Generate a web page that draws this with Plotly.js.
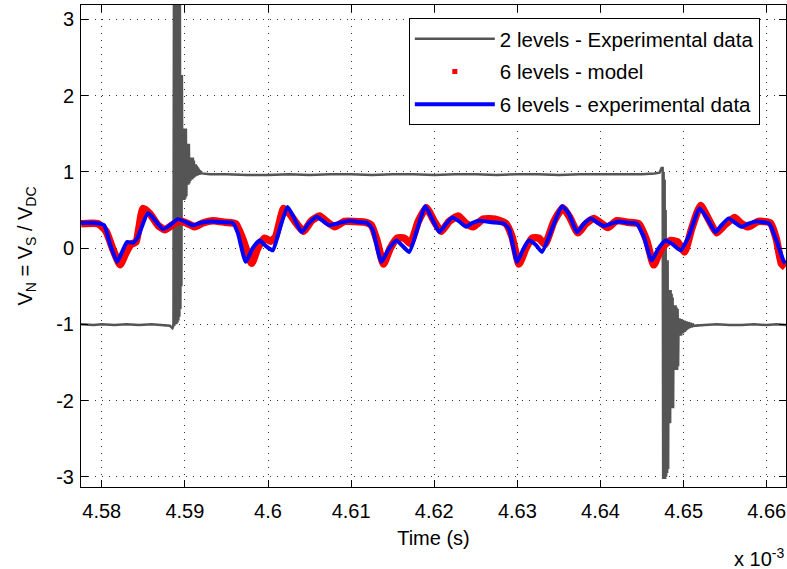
<!DOCTYPE html>
<html>
<head>
<meta charset="utf-8">
<script src="https://cdn.plot.ly/plotly-3.0.1.min.js"></script>
<style>html,body{margin:0;padding:0;background:#fff}#chart{width:787px;height:569px}</style>
</head>
<body>
<div id="chart"></div>
<script>
// Time values in units of 1e-3 s
var grayTime = [4.5775, 4.5790, 4.5800, 4.5815, 4.5830, 4.5845, 4.5860, 4.5875, 4.58820, 4.58850, 4.58862,
  4.58868, 4.58874, 4.58880, 4.58886, 4.58892, 4.58898, 4.58904, 4.58910, 4.58916, 4.58922, 4.58928, 4.58934, 4.58940, 4.58946,
  4.58952, 4.58958, 4.58964, 4.58970, 4.58976, 4.58982, 4.58988, 4.58994, 4.59000, 4.59006, 4.59012, 4.59018,
  4.59024, 4.59030, 4.59036, 4.59042, 4.59048, 4.59054, 4.59060, 4.59066, 4.59072, 4.59078, 4.59084, 4.59090,
  4.59096, 4.59102, 4.59108, 4.59114, 4.59120, 4.59126, 4.59132, 4.59138, 4.59144, 4.59150, 4.59156, 4.59162,
  4.59168, 4.59174, 4.59180, 4.59186, 4.59192, 4.59204,
  4.5930, 4.5950, 4.5975, 4.6000, 4.6025, 4.6050, 4.6075, 4.6100, 4.6125, 4.6150, 4.6175, 4.6200, 4.6225, 4.6250,
  4.6275, 4.6300, 4.6325, 4.6350, 4.6375, 4.6400, 4.6425, 4.6450, 4.6465, 4.64710, 4.64735,
  4.64748, 4.64754, 4.64760, 4.64766, 4.64772, 4.64778, 4.64784, 4.64790, 4.64796, 4.64802, 4.64808, 4.64814,
  4.64820, 4.64826, 4.64832, 4.64838, 4.64844, 4.64850, 4.64856, 4.64862, 4.64868, 4.64874,
  4.64880, 4.64886, 4.64892, 4.64898, 4.64904, 4.64910, 4.64916, 4.64922, 4.64928, 4.64934,
  4.64940, 4.64946, 4.64952, 4.64958, 4.64964, 4.64970, 4.64976, 4.64982, 4.64988, 4.64994,
  4.65000, 4.65006, 4.65012, 4.65018, 4.65024, 4.65030, 4.65036, 4.65042, 4.65048, 4.65054,
  4.65060, 4.65072, 4.65084, 4.65096, 4.65108, 4.65120,
  4.6525, 4.6540, 4.6555, 4.6570, 4.6585, 4.6600, 4.6612, 4.66232];
var grayValue = [-1.00, -1.01, -1.00, -1.01, -1.00, -1.01, -1.00, -1.01, -1.02, -1.05, -1.02,
  3.30, -1.02, 3.30, -1.00, 3.30, -1.00, 3.30, -0.98, 3.30, -0.95, 3.30, -0.90, 3.30, -0.80,
  2.27, -0.50, 2.27, 0.63, 1.57, 0.63, 1.57, 0.63, 1.57, 0.65, 1.57, 0.68,
  1.37, 0.83, 1.37, 0.83, 1.37, 0.85, 1.19, 0.88, 1.19, 0.90, 1.19, 0.90,
  1.19, 0.92, 1.15, 0.93, 1.10, 0.94, 1.10, 0.95, 1.08, 0.95, 1.06, 0.96,
  1.04, 0.96, 1.02, 0.97, 1.01, 0.98,
  0.97, 0.97, 0.96, 0.96, 0.97, 0.96, 0.97, 0.97, 0.96, 0.97, 0.97, 0.96, 0.97, 0.97,
  0.96, 0.97, 0.97, 0.96, 0.97, 0.97, 0.97, 0.97, 0.98, 0.99, 1.05,
  1.05, -3.03, 1.00, -3.03, 0.90, -3.03, 0.50, -3.00, -0.16, -2.95, -0.16, -2.90,
  -0.55, -2.30, -0.55, -2.30, -0.55, -2.10, -0.60, -2.10, -0.65, -2.10,
  -0.75, -1.60, -0.75, -1.60, -0.75, -1.60, -0.78, -1.60, -0.80, -1.55,
  -0.92, -1.15, -0.92, -1.15, -0.93, -1.15, -0.93, -1.12, -0.94, -1.12,
  -0.95, -1.10, -0.95, -1.10, -0.96, -1.08, -0.96, -1.07, -0.97, -1.06,
  -0.97, -1.05, -0.98, -1.04, -0.99, -1.02,
  -1.01, -1.00, -1.01, -1.01, -1.00, -1.01, -1.00, -1.01];

var modelTime = [4.57752, 4.57956, 4.58052, 4.58136, 4.58220, 4.58292, 4.58352, 4.58412, 4.58496, 4.58580,
  4.58676, 4.58760, 4.58844, 4.58940, 4.59036, 4.59120, 4.59216, 4.59336, 4.59480, 4.59612,
  4.59696, 4.59804, 4.59876, 4.59960, 4.60032, 4.60092, 4.60188, 4.60260, 4.60344, 4.60428,
  4.60524, 4.60620, 4.60704, 4.60800, 4.60920, 4.61040, 4.61160, 4.61244, 4.61316, 4.61388,
  4.61472, 4.61556, 4.61640, 4.61712, 4.61808, 4.61904, 4.62000, 4.62084, 4.62180, 4.62288,
  4.62384, 4.62468, 4.62588, 4.62732, 4.62864, 4.62936, 4.63020, 4.63104, 4.63176, 4.63260,
  4.63332, 4.63440, 4.63548, 4.63632, 4.63728, 4.63824, 4.63920, 4.64016, 4.64088, 4.64196,
  4.64316, 4.64460, 4.64556, 4.64640, 4.64736, 4.64844, 4.64928, 4.65012, 4.65096, 4.65204,
  4.65300, 4.65396, 4.65492, 4.65612, 4.65696, 4.65780, 4.65900, 4.66044, 4.66116, 4.66176, 4.66224];
var modelValue = [0.32, 0.32, 0.22, -0.02, -0.22, -0.06, 0.05, 0.08, 0.52, 0.45,
  0.30, 0.24, 0.30, 0.36, 0.32, 0.28, 0.33, 0.36, 0.34, 0.32,
  0.12, -0.20, 0.00, 0.13, 0.09, 0.15, 0.52, 0.45, 0.32, 0.22,
  0.36, 0.42, 0.35, 0.28, 0.35, 0.35, 0.34, 0.30, 0.08, -0.21,
  0.00, 0.13, 0.13, 0.06, 0.35, 0.53, 0.35, 0.22, 0.35, 0.42,
  0.32, 0.28, 0.38, 0.38, 0.32, 0.15, -0.21, 0.00, 0.13, 0.13,
  0.05, 0.35, 0.53, 0.40, 0.20, 0.32, 0.39, 0.32, 0.27, 0.36,
  0.34, 0.32, 0.10, -0.22, 0.00, 0.10, 0.08, -0.05, 0.25, 0.56,
  0.38, 0.20, 0.30, 0.40, 0.32, 0.28, 0.35, 0.33, 0.12, -0.20, -0.25];

var expTime = [4.57752, 4.57920, 4.58028, 4.58100, 4.58184, 4.58244, 4.58304, 4.58376, 4.58436, 4.58556,
  4.58652, 4.58736, 4.58820, 4.58916, 4.59012, 4.59096, 4.59180, 4.59300, 4.59480, 4.59576,
  4.59636, 4.59732, 4.59816, 4.59900, 4.59972, 4.60056, 4.60140, 4.60236, 4.60320, 4.60404,
  4.60488, 4.60584, 4.60656, 4.60740, 4.60860, 4.60980, 4.61100, 4.61196, 4.61256, 4.61364,
  4.61448, 4.61544, 4.61616, 4.61700, 4.61796, 4.61892, 4.61976, 4.62060, 4.62144, 4.62216,
  4.62300, 4.62384, 4.62456, 4.62540, 4.62684, 4.62840, 4.62900, 4.62996, 4.63068, 4.63140,
  4.63224, 4.63296, 4.63416, 4.63536, 4.63620, 4.63716, 4.63800, 4.63884, 4.63956, 4.64040,
  4.64124, 4.64220, 4.64340, 4.64436, 4.64520, 4.64616, 4.64700, 4.64784, 4.64868, 4.64964,
  4.65060, 4.65192, 4.65288, 4.65384, 4.65456, 4.65540, 4.65624, 4.65696, 4.65780, 4.65864,
  4.65960, 4.66032, 4.66116, 4.66200, 4.66224];
var expValue = [0.33, 0.33, 0.30, 0.05, -0.18, -0.05, 0.08, 0.07, 0.15, 0.46,
  0.35, 0.25, 0.30, 0.38, 0.34, 0.30, 0.33, 0.35, 0.34, 0.33,
  0.20, -0.18, 0.00, 0.10, 0.03, -0.03, 0.25, 0.54, 0.38, 0.21,
  0.32, 0.41, 0.36, 0.30, 0.33, 0.36, 0.34, 0.33, 0.25, -0.18,
  -0.02, 0.10, 0.03, -0.05, 0.25, 0.55, 0.38, 0.21, 0.32, 0.40,
  0.35, 0.28, 0.33, 0.36, 0.34, 0.32, 0.25, -0.18, -0.02, 0.10,
  0.04, -0.05, 0.25, 0.55, 0.45, 0.21, 0.32, 0.39, 0.34, 0.29,
  0.32, 0.35, 0.33, 0.32, 0.15, -0.16, 0.00, 0.10, 0.05, -0.03,
  0.15, 0.52, 0.38, 0.21, 0.30, 0.39, 0.33, 0.28, 0.32, 0.35,
  0.34, 0.32, 0.10, -0.16, -0.20];

var seriesNames = ['2 levels - Experimental data', '6 levels - model', '6 levels - experimental data'];
var xTickVals = [4.58, 4.59, 4.60, 4.61, 4.62, 4.63, 4.64, 4.65, 4.66];
var xTickText = ['4.58', '4.59', '4.6', '4.61', '4.62', '4.63', '4.64', '4.65', '4.66'];
var yTickVals = [-3, -2, -1, 0, 1, 2, 3];
var yTickText = ['-3', '-2', '-1', '0', '1', '2', '3'];

var FONT = 'Liberation Sans, Arial, Helvetica, sans-serif';

var traces = [
  {x: grayTime, y: grayValue, type: 'scatter', mode: 'lines', name: seriesNames[0], legendgroup: 'a',
   line: {color: '#555555', width: 2.5}},
  {x: modelTime, y: modelValue, type: 'scatter', mode: 'lines', name: seriesNames[1], showlegend: false, legendgroup: 'b',
   line: {color: '#ff0000', width: 7.5, shape: 'spline', smoothing: 0.5}},
  {x: [null], y: [null], type: 'scatter', mode: 'markers', name: seriesNames[1], legendgroup: 'b',
   marker: {color: '#ff0000', symbol: 'square', size: 5}},
  {x: expTime, y: expValue, type: 'scatter', mode: 'lines', name: seriesNames[2], legendgroup: 'c',
   line: {color: '#0000ff', width: 4, shape: 'spline', smoothing: 0.5}}
];

var axisCommon = {
  showline: true, linecolor: '#000', linewidth: 1, mirror: 'ticks',
  ticks: 'inside', ticklen: 7, tickcolor: '#000', tickwidth: 1,
  showgrid: true, gridcolor: '#333', gridwidth: 1, griddash: '1px,6px',
  zeroline: false, tickfont: {family: FONT, size: 20, color: '#000'}
};

var layout = {
  width: 787, height: 569,
  margin: {l: 81, r: 1, t: 5, b: 82},
  paper_bgcolor: '#fff', plot_bgcolor: '#fff',
  showlegend: true,
  font: {family: FONT, size: 20, color: '#000'},
  xaxis: Object.assign({}, axisCommon, {
    range: [4.5775, 4.66232], tickmode: 'array', tickvals: xTickVals, ticktext: xTickText,
    ticklabelstandoff: 6,
    title: {text: 'Time (s)', font: {family: FONT, size: 20, color: '#000'}, standoff: 9}
  }),
  yaxis: Object.assign({}, axisCommon, {
    range: [-3.135, 3.19], tickmode: 'array', tickvals: yTickVals, ticktext: yTickText,
    ticklabelstandoff: 2,
    title: {text: 'V<sub>N</sub> = V<sub>S</sub> / V<sub>DC</sub>', font: {family: FONT, size: 20, color: '#000'}, standoff: 18}
  }),
  legend: {
    x: 0.465, y: 0.973, xanchor: 'left', yanchor: 'top',
    bgcolor: '#fff', bordercolor: '#000', borderwidth: 1,
    font: {family: FONT, size: 20.5, color: '#000'},
    itemwidth: 80, tracegroupgap: 3, traceorder: 'grouped'
  },
  annotations: [
    {xref: 'paper', yref: 'paper', x: 1.0, y: -0.147, xanchor: 'right', yanchor: 'middle',
     text: 'x 10<sup>-3</sup>', showarrow: false, font: {family: FONT, size: 20, color: '#000'}}
  ]
};

Plotly.newPlot('chart', traces, layout, {displayModeBar: false, staticPlot: true});
</script>
</body>
</html>
